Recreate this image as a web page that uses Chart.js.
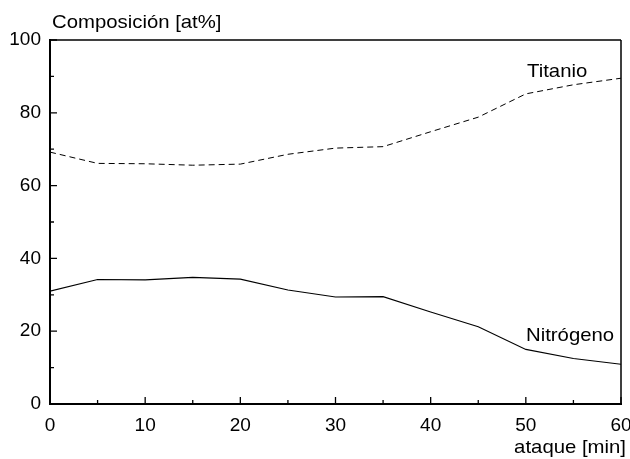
<!DOCTYPE html>
<html>
<head>
<meta charset="utf-8">
<script src="https://cdn.jsdelivr.net/npm/chart.js@4"></script>
<style>
  html, body { margin: 0; padding: 0; background: #fff; }
  #wrap { width: 630px; height: 459px; }
</style>
</head>
<body>
<div id="wrap"><canvas id="c" width="630" height="459"></canvas></div>
<script>
// Etching time (min)
const tiempo = [0, 5, 10, 15, 20, 25, 30, 35, 40, 45, 50, 55, 60];
// Composition (at%)
const titanio = [69.2, 66.1, 66.0, 65.6, 65.9, 68.6, 70.3, 70.7, 74.8, 78.8, 85.2, 87.7, 89.5];
const nitrogeno = [31.0, 34.2, 34.1, 34.8, 34.3, 31.3, 29.4, 29.5, 25.3, 21.2, 15.0, 12.5, 10.9];
// Axis ticks
const xMajor = [0, 10, 20, 30, 40, 50, 60];
const xMinor = [5, 15, 25, 35, 45, 55];
const yMajor = [0, 20, 40, 60, 80, 100];
const yMinor = [10, 30, 50, 70, 90];

const FONT = '"Liberation Sans", Arial, sans-serif';
const FS = 19;
const STRETCH = 1.07;

const pts = (xs, ys) => xs.map((x, i) => ({ x: x, y: ys[i] }));

// Text with a slight horizontal widening
function wideText(ctx, txt, x, y, align) {
  ctx.save();
  ctx.translate(x, y);
  ctx.scale(STRETCH, 1);
  ctx.textAlign = align;
  ctx.fillText(txt, 0, 0);
  ctx.restore();
}

// Frame, inward ticks and text labels
const decor = {
  id: 'decor',
  afterDraw(chart) {
    const ctx = chart.ctx;
    const a = chart.chartArea;
    const xs = chart.scales.x, ys = chart.scales.y;
    ctx.save();
    ctx.strokeStyle = '#000';
    ctx.lineWidth = 1.5;
    ctx.beginPath();
    ctx.moveTo(a.left, a.top); ctx.lineTo(a.right, a.top);
    ctx.moveTo(a.right, a.top); ctx.lineTo(a.right, a.bottom);
    ctx.stroke();

    ctx.lineWidth = 1.3;
    ctx.beginPath();
    xMajor.forEach(v => { const p = xs.getPixelForValue(v); ctx.moveTo(p, a.bottom); ctx.lineTo(p, a.bottom - 7); });
    xMinor.forEach(v => { const p = xs.getPixelForValue(v); ctx.moveTo(p, a.bottom); ctx.lineTo(p, a.bottom - 4); });
    yMajor.forEach(v => { const p = ys.getPixelForValue(v); ctx.moveTo(a.left, p); ctx.lineTo(a.left + 7, p); });
    yMinor.forEach(v => { const p = ys.getPixelForValue(v); ctx.moveTo(a.left, p); ctx.lineTo(a.left + 4, p); });
    ctx.stroke();

    ctx.fillStyle = '#000';
    ctx.font = FS + 'px ' + FONT;
    ctx.textBaseline = 'alphabetic';
    wideText(ctx, 'Composición [at%]', 52, 28, 'left');
    wideText(ctx, 'Titanio', 527, 77, 'left');
    wideText(ctx, 'Nitrógeno', 526, 341, 'left');
    wideText(ctx, 'ataque [min]', 626, 453, 'right');
    ctx.restore();
  }
};

new Chart(document.getElementById('c'), {
  type: 'line',
  data: {
    datasets: [
      {
        label: 'Titanio',
        data: pts(tiempo, titanio),
        borderColor: '#000',
        borderWidth: 1,
        borderDash: [6, 4],
        pointRadius: 0,
        tension: 0,
        fill: false
      },
      {
        label: 'Nitrógeno',
        data: pts(tiempo, nitrogeno),
        borderColor: '#000',
        borderWidth: 1.1,
        pointRadius: 0,
        tension: 0,
        fill: false
      }
    ]
  },
  options: {
    responsive: false,
    animation: false,
    devicePixelRatio: 1,
    layout: { padding: { top: 40, right: 9, left: 0, bottom: 0 } },
    plugins: { legend: { display: false }, tooltip: { enabled: false } },
    scales: {
      x: {
        type: 'linear',
        min: 0, max: 60,
        grid: { display: false, drawTicks: false },
        border: { display: true, color: '#000', width: 2 },
        ticks: { stepSize: 10, padding: 10, color: '#000', font: { family: FONT, size: FS }, maxRotation: 0 },
        afterFit(s) { s.height = 55; s.paddingLeft = 0; s.paddingRight = 0; }
      },
      y: {
        min: 0, max: 100,
        grid: { display: false, drawTicks: false },
        border: { display: true, color: '#000', width: 2 },
        ticks: { stepSize: 20, padding: 9, color: '#000', font: { family: FONT, size: FS } },
        afterFit(s) { s.width = 50; s.paddingTop = 0; s.paddingBottom = 0; }
      }
    }
  },
  plugins: [decor]
});
</script>
</body>
</html>
